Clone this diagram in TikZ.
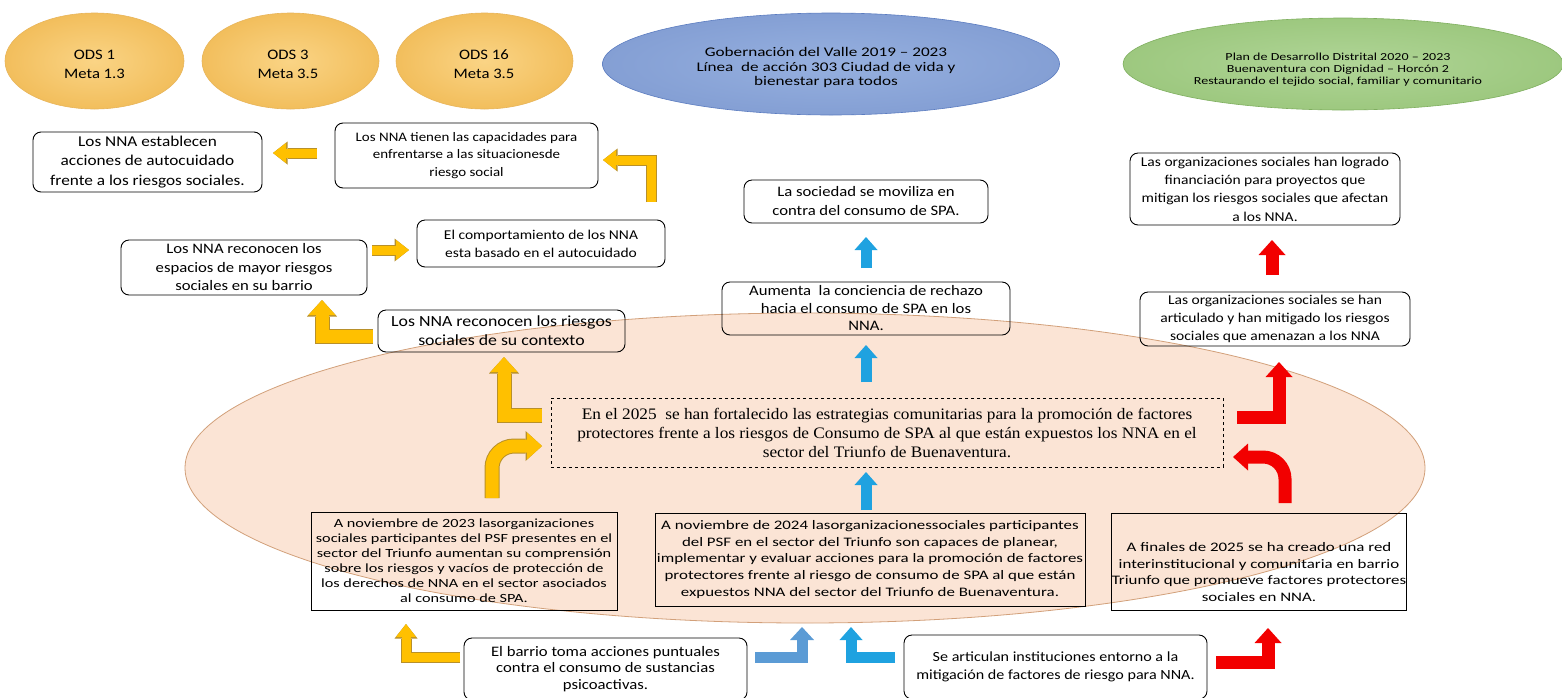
\documentclass[tikz,border=0pt]{standalone}
\usepackage{fontspec}
\setmainfont{Carlito}[FakeStretch=1.15]
\newfontfamily\widef{Carlito}[FakeStretch=1.3]
\newfontfamily\timesf{Liberation Serif}[FakeStretch=1.08]
\usetikzlibrary{arrows.meta,shapes.geometric}
\definecolor{odsIn}{HTML}{FAD485}
\definecolor{odsOut}{HTML}{F2BE5C}
\definecolor{odsB}{HTML}{E8B55A}
\definecolor{govIn}{HTML}{96B0DF}
\definecolor{govOut}{HTML}{849FD4}
\definecolor{govB}{HTML}{5B7CC0}
\definecolor{plIn}{HTML}{B0D597}
\definecolor{plOut}{HTML}{9DC87F}
\definecolor{plB}{HTML}{7FAF5F}
\definecolor{peach}{HTML}{FBE4D5}
\definecolor{peachB}{HTML}{D2A07A}
\definecolor{arY}{HTML}{FFC000}
\definecolor{arYb}{HTML}{B8902A}
\definecolor{arC}{HTML}{1FA2E0}
\definecolor{arS}{HTML}{5B9BD5}
\definecolor{arR}{HTML}{F20000}
\newcommand\fs[2]{\fontsize{#1}{#2}\selectfont}
\newcommand\yarr[1]{\draw[yout] #1; \draw[yin] #1;}
\newcommand\ysarr[1]{\draw[ysout] #1; \draw[ysin] #1;}
\tikzset{
  rbox/.style={draw=black, line width=0.9pt, rounded corners=8pt, align=center, inner sep=0pt, font=\fs{13}{17.5}},
  sbox/.style={draw=black, line width=0.9pt, align=center, inner sep=0pt, font=\widef\fs{12.5}{15}},
  odsell/.style={ellipse, draw=odsB, line width=0.6pt, inner color=odsIn, outer color=odsOut, inner sep=0pt},
  odstxt/.style={align=center, inner sep=0pt, font=\fs{14.5}{19}},
  yin/.style={draw=arY, line width=13pt, line join=miter, -{Triangle[width=27pt,length=15pt,line width=0pt]}},
  yout/.style={draw=arYb, line width=15pt, line join=miter, -{Triangle[width=30pt,length=16.5pt,line width=0pt]}},
  ysin/.style={draw=arY, line width=9pt, line join=miter, -{Triangle[width=20pt,length=13pt,line width=0pt]}},
  ysout/.style={draw=arYb, line width=11pt, line join=miter, -{Triangle[width=23pt,length=14.5pt,line width=0pt]}},
  cin/.style={draw=arC, line width=11pt, line join=miter, -{Triangle[width=23pt,length=13pt,line width=0pt]}},
  sin/.style={draw=arS, line width=11pt, line join=miter, -{Triangle[width=24pt,length=13pt,line width=0pt]}},
  rin/.style={draw=arR, line width=13pt, line join=miter, -{Triangle[width=27pt,length=15pt,line width=0pt]}},
}
\begin{document}
\begin{tikzpicture}[x=1pt,y=-1pt]
\useasboundingbox (0,0) rectangle (1562,697);
\fill[white] (0,0) rectangle (1562,697);

% background zone
\node[ellipse, draw=peachB, fill=peach, line width=0.8pt, minimum width=1240pt, minimum height=310pt, inner sep=0pt] (zone) at (805,468) {};

% top ellipses
\node[odsell, minimum width=179pt, minimum height=96pt] (ods1) at (94.5,61) {};
\node[odsell, minimum width=177pt, minimum height=96pt] (ods3) at (290.5,61) {};
\node[odsell, minimum width=177pt, minimum height=96pt] (ods16) at (484.5,61) {};
\node[odstxt] (ods1t) at (94.5,64) {ODS 1\\Meta 1.3};
\node[odstxt] (ods3t) at (288,64) {ODS 3\\Meta 3.5};
\node[odstxt] (ods16t) at (484,64) {ODS 16\\Meta 3.5};
\node[ellipse, draw=govB, line width=0.6pt, inner color=govIn, outer color=govOut, inner sep=0pt, minimum width=457pt, minimum height=102pt] (gov) at (831,64) {};
\node[align=center, inner sep=0pt, font=\widef\fs{13.2}{14.8}] (govt) at (826,67.5)
  {Gobernación del Valle 2019 – 2023\\Línea\ \ de acción 303 Ciudad de vida y\\bienestar para todos};
\node[ellipse, draw=plB, line width=0.6pt, inner color=plIn, outer color=plOut, inner sep=0pt, minimum width=440pt, minimum height=92pt] (plan) at (1343,64) {};
\node[align=center, inner sep=0pt, font=\widef\fs{10.8}{12}] (plant) at (1338,70)
  {Plan de Desarrollo Distrital 2020 – 2023\\Buenaventura con Dignidad – Horcón 2\\Restaurando el tejido social, familiar y comunitario};

% left column boxes
\node[rbox, font=\fs{15}{19.5}, minimum width=229pt, minimum height=60pt] (A) at (147.5,162) {Los NNA establecen\\acciones de autocuidado\\frente a los riesgos sociales.};
\node[rbox, minimum width=263pt, minimum height=65pt] (B) at (466.5,155.5) {Los NNA tienen las capacidades para\\enfrentarse a las situacionesde\\riesgo social};
\node[rbox, font=\fs{14.5}{18.5}, minimum width=246pt, minimum height=55pt] (C) at (244,267.5) {Los NNA reconocen los\\espacios de mayor riesgos\\sociales en su barrio};
\node[rbox, font=\fs{13.5}{18}, minimum width=248pt, minimum height=47pt] (D) at (541,243.5) {El comportamiento de los NNA\\esta basado en el autocuidado};
\node[rbox, font=\fs{15.5}{19}, minimum width=247pt, minimum height=42pt] (E) at (501.5,331) {Los NNA reconocen los riesgos\\sociales de su contexto};

% center column
\node[rbox, font=\fs{14.5}{19}, minimum width=244pt, minimum height=43pt] (F) at (866,201.5) {La sociedad se moviliza en\\contra del consumo de SPA.};
\node[rbox, font=\fs{14.5}{17.5}, minimum width=288pt, minimum height=53pt] (G) at (866,308.5) {Aumenta\ \ la conciencia de rechazo\\hacia el consumo de SPA en los\\NNA.};
\node[draw=black, dashed, line width=0.8pt, align=center, inner sep=0pt, font=\timesf\fs{16}{19}, minimum width=672pt, minimum height=69pt] (H) at (887,432.5)
  {En el 2025\ \ se han fortalecido las estrategias comunitarias para la promoción de factores\\protectores frente a los riesgos de Consumo de SPA al que están expuestos los NNA en el\\sector del Triunfo de Buenaventura.};
\node[sbox, font=\widef\fs{13}{16.6}, minimum width=430pt, minimum height=93pt] (I) at (870,559.5) {A noviembre de 2024 lasorganizacionessociales participantes\\del PSF en el sector del Triunfo son capaces de planear,\\implementar y evaluar acciones para la promoción de factores\\protectores frente al riesgo de consumo de SPA al que están\\expuestos NNA del sector del Triunfo de Buenaventura.};
\node[sbox, minimum width=306pt, minimum height=98pt] (J) at (464,561) {A noviembre de 2023 lasorganizaciones\\sociales participantes del PSF presentes en el\\sector del Triunfo aumentan su comprensión\\sobre los riesgos y vacíos de protección de\\los derechos de NNA en el sector asociados\\al consumo de SPA.};

% right column
\node[rbox, font=\fs{13.5}{18.3}, minimum width=270pt, minimum height=72pt] (K) at (1265,189) {Las organizaciones sociales han logrado\\financiación para proyectos que\\mitigan los riesgos sociales que afectan\\a los NNA.};
\node[rbox, font=\fs{13.5}{18.3}, minimum width=270pt, minimum height=54pt] (L) at (1275,319) {Las organizaciones sociales se han\\articulado y han mitigado los riesgos\\sociales que amenazan a los NNA};
\node[sbox, font=\widef\fs{13}{16.5}, minimum width=292pt, minimum height=97pt] (M) at (1259,561.5) {\rule{0pt}{30pt}A finales de 2025 se ha creado una red\\interinstitucional y comunitaria en barrio\\Triunfo que promueve factores protectores\\sociales en NNA.};

% bottom row
\node[rbox, font=\fs{14.5}{16.5}, minimum width=283pt, minimum height=62pt] (N) at (605.5,669) {El barrio toma acciones puntuales\\contra el consumo de sustancias\\psicoactivas.};
\node[rbox, font=\fs{14}{18.5}, minimum width=303pt, minimum height=64pt] (O) at (1055.5,667) {Se articulan instituciones entorno a la\\mitigación de factores de riesgo para NNA.};

% arrow anchor points
\coordinate (y1s) at (317,153); \coordinate (y1e) at (273,153);
\coordinate (y2s) at (651,202); \coordinate (y2c) at (651,160); \coordinate (y2e) at (603,160);
\coordinate (y3s) at (372,250); \coordinate (y3e) at (409,250);
\coordinate (y4s) at (373,336); \coordinate (y4c) at (322,336); \coordinate (y4e) at (322,300);
\coordinate (y5s) at (542,415); \coordinate (y5c) at (504,415); \coordinate (y5e) at (504,357);
\coordinate (y6s) at (492,498); \coordinate (y6c) at (492,446); \coordinate (y6e) at (542,446);
\coordinate (y7s) at (460,657); \coordinate (y7c) at (406,657); \coordinate (y7e) at (406,624);
\coordinate (c1s) at (866,268); \coordinate (c1e) at (866,237);
\coordinate (c2s) at (866,382); \coordinate (c2e) at (866,345);
\coordinate (c3s) at (866,510); \coordinate (c3e) at (866,472);
\coordinate (c4s) at (895,657); \coordinate (c4c) at (851,657); \coordinate (c4e) at (851,627);
\coordinate (s1s) at (755,657); \coordinate (s1c) at (802,657); \coordinate (s1e) at (802,627);
\coordinate (r1s) at (1272,275); \coordinate (r1e) at (1272,240);
\coordinate (r2s) at (1237,417); \coordinate (r2c) at (1279,417); \coordinate (r2e) at (1279,362);
\coordinate (r3s) at (1285,503); \coordinate (r3c) at (1285,457); \coordinate (r3e) at (1233,457);
\coordinate (r4s) at (1216,662); \coordinate (r4c) at (1268,662); \coordinate (r4e) at (1268,628);

% yellow arrows
\ysarr{(y1s) -- (y1e)}
\ysarr{(y2s) -- (y2c) -- (y2e)}
\ysarr{(y3s) -- (y3e)}
\yarr{(y4s) -- (y4c) -- (y4e)}
\yarr{(y5s) -- (y5c) -- (y5e)}
\draw[yout, rounded corners=22pt] (y6s) -- (y6c) -- (y6e);
\draw[yin, rounded corners=22pt] (y6s) -- (y6c) -- (y6e);
\ysarr{(y7s) -- (y7c) -- (y7e)}

% blue arrows
\draw[cin] (c1s) -- (c1e);
\draw[cin] (c2s) -- (c2e);
\draw[cin] (c3s) -- (c3e);
\draw[cin] (c4s) -- (c4c) -- (c4e);
\draw[sin] (s1s) -- (s1c) -- (s1e);

% red arrows
\draw[rin] (r1s) -- (r1e);
\draw[rin] (r2s) -- (r2c) -- (r2e);
\draw[rin, rounded corners=22pt] (r3s) -- (r3c) -- (r3e);
\draw[rin] (r4s) -- (r4c) -- (r4e);
\end{tikzpicture}
\end{document}
